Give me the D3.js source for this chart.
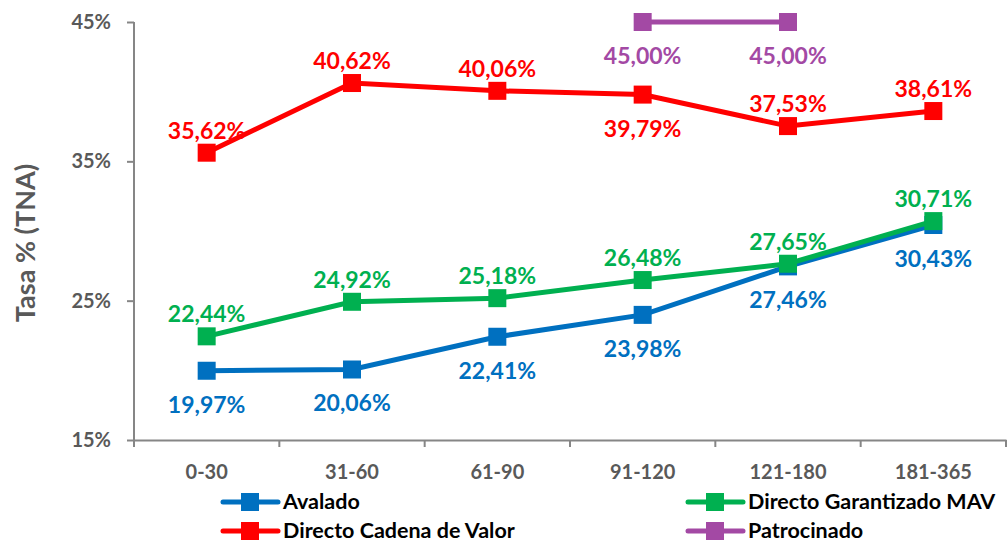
<!DOCTYPE html>
<html>
<head>
<meta charset="utf-8">
<script src="https://cdn.jsdelivr.net/npm/d3@7"></script>
<style>
  body { margin: 0; background: #fff; }
  text { font-family: Lato, "Open Sans", sans-serif; font-weight: bold; }
</style>
</head>
<body>
<div id="chart"></div>
<script>
// chart data
const plazos = ["0-30", "31-60", "61-90", "91-120", "121-180", "181-365"];
const avalado = [19.97, 20.06, 22.41, 23.98, 27.46, 30.43];
const garantizado = [22.44, 24.92, 25.18, 26.48, 27.65, 30.71];
const cadena = [35.62, 40.62, 40.06, 39.79, 37.53, 38.61];
const patrocinado = [null, null, null, 45.00, 45.00, null];
const yTicks = [15, 25, 35, 45];

const svgWidth = 1008;
const svgHeight = 543;

const margin = { top: 22, right: 2, bottom: 103, left: 134 };
const chartWidth = svgWidth - margin.left - margin.right;
const chartHeight = svgHeight - margin.top - margin.bottom;

const svg = d3.select("#chart").append("svg")
    .attr("width", svgWidth)
    .attr("height", svgHeight);

// label side: 1 = above, -1 = below
const series = [
    { name: "Avalado", color: "#0070C0", values: avalado, side: [-1, -1, -1, -1, -1, -1] },
    { name: "Directo Garantizado MAV", color: "#00B050", values: garantizado, side: [1, 1, 1, 1, 1, 1] },
    { name: "Directo Cadena de Valor", color: "#FF0000", values: cadena, side: [1, 1, 1, -1, 1, 1] },
    { name: "Patrocinado", color: "#A349A4", values: patrocinado, side: [-1, -1, -1, -1, -1, -1] }
];

const xScale = d3.scaleBand()
    .domain(plazos)
    .range([0, chartWidth]);

const yScale = d3.scaleLinear()
    .domain([15, 45])
    .range([chartHeight, 0]);

const chartGroup = svg.append("g")
    .attr("transform", `translate(${margin.left}, ${margin.top})`);

// axes
const xAxis = d3.axisBottom(xScale).tickSize(0);
const xAxisG = chartGroup.append("g")
    .attr("transform", `translate(0, ${chartHeight})`)
    .call(xAxis);
xAxisG.select(".domain").attr("stroke", "#868686").attr("stroke-width", 2);
xAxisG.selectAll(".tick text")
    .attr("y", 39).attr("dy", 0)
    .attr("font-size", "20px").attr("fill", "#595959");
xAxisG.selectAll(".sep").data(d3.range(plazos.length + 1))
    .enter().append("line")
    .attr("x1", i => i * xScale.step())
    .attr("x2", i => i * xScale.step())
    .attr("y1", 0).attr("y2", 7)
    .attr("stroke", "#868686").attr("stroke-width", 2);

const yAxis = d3.axisLeft(yScale).tickValues(yTicks).tickSize(7).tickPadding(16)
    .tickFormat(d => d + "%");
const yAxisG = chartGroup.append("g").call(yAxis);
yAxisG.select(".domain").attr("stroke", "#868686").attr("stroke-width", 2).attr("d", `M0,0V${chartHeight}`);
yAxisG.selectAll(".tick line").attr("stroke", "#868686").attr("stroke-width", 2);
yAxisG.selectAll(".tick text").attr("font-size", "20px").attr("fill", "#595959");

svg.append("text")
    .attr("transform", `translate(35, 243) rotate(-90)`)
    .attr("text-anchor", "middle")
    .attr("font-size", "27px")
    .attr("fill", "#595959")
    .text("Tasa % (TNA)");

// lines, markers, labels
const xPos = i => xScale(plazos[i]) + xScale.bandwidth() / 2;
const line = d3.line()
    .defined(d => d != null)
    .x((d, i) => xPos(i))
    .y(d => yScale(d));

const fmt = v => v.toFixed(2).replace(".", ",") + "%";

series.forEach(s => {
    const g = chartGroup.append("g");
    g.append("path")
        .datum(s.values)
        .attr("d", line)
        .attr("fill", "none")
        .attr("stroke", s.color)
        .attr("stroke-width", 5);
    const pts = s.values.map((v, i) => ({ v, i })).filter(d => d.v != null);
    g.selectAll("rect").data(pts)
        .enter().append("rect")
        .attr("x", d => xPos(d.i) - 9)
        .attr("y", d => yScale(d.v) - 9)
        .attr("width", 18)
        .attr("height", 18)
        .attr("fill", s.color);
    g.selectAll("text").data(pts)
        .enter().append("text")
        .attr("x", d => xPos(d.i))
        .attr("y", d => s.side[d.i] > 0 ? yScale(d.v) - 14 : yScale(d.v) + 42)
        .attr("text-anchor", "middle")
        .attr("font-size", "23px")
        .attr("fill", s.color)
        .text(d => fmt(d.v));
});

// legend
const legendPos = [
    { x: 223, y: 502 }, { x: 688, y: 502 },
    { x: 223, y: 531 }, { x: 688, y: 531 }
];
series.forEach((s, k) => {
    const p = legendPos[k];
    const lg = svg.append("g").attr("transform", `translate(${p.x}, ${p.y})`);
    lg.append("line")
        .attr("x1", 0).attr("x2", 55)
        .attr("y1", 0).attr("y2", 0)
        .attr("stroke", s.color).attr("stroke-width", 5)
        .attr("stroke-linecap", "round");
    lg.append("rect")
        .attr("x", 18).attr("y", -9)
        .attr("width", 18).attr("height", 18)
        .attr("fill", s.color);
    lg.append("text")
        .attr("x", 60).attr("y", 7)
        .attr("font-size", "21.5px")
        .attr("fill", "#000")
        .text(s.name);
});
</script>
</body>
</html>
